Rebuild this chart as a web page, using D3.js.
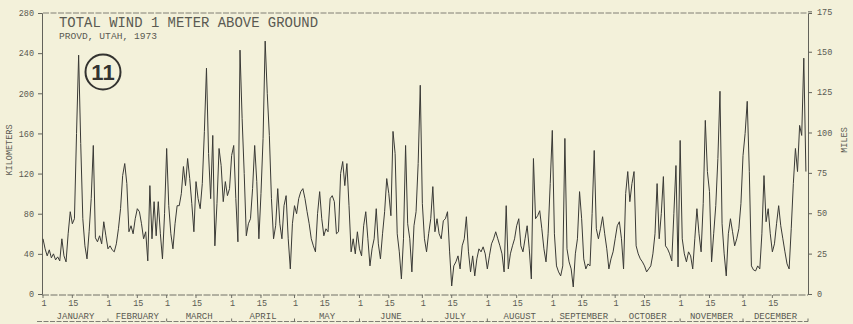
<!DOCTYPE html>
<html>
<head>
<meta charset="utf-8">
<script src="https://cdn.jsdelivr.net/npm/d3@7/dist/d3.min.js"></script>
<style>
  html, body { margin: 0; padding: 0; background: #f3f1da; }
  svg { display: block; }
  text { font-family: "Liberation Mono", "DejaVu Sans Mono", monospace; fill: #5a5a52; }
</style>
</head>
<body>
<svg id="chart" width="853" height="324"></svg>
<script>
// Daily total wind run (km) at 1 m above ground, Provo, Utah, 1973 (Jan 1 = index 0)
const windKm = [
  // January
  55, 45, 38, 44, 36, 40, 34, 37, 33, 55, 38, 32, 60, 82, 70, 75, 160, 238, 150, 75,
  48, 35, 62, 95, 148, 56, 52, 58, 50, 72, 58,
  // February
  45, 48, 44, 42, 50, 65, 85, 118, 130, 110, 62, 68, 60, 75, 85, 82, 70, 55, 62, 33,
  108, 55, 92, 58, 92, 60, 35, 80,
  // March
  145, 88, 60, 45, 70, 88, 88, 100, 127, 108, 135, 115, 90, 62, 112, 95, 85, 110, 162, 225,
  140, 95, 158, 48, 90, 145, 128, 92, 112, 98, 105,
  // April
  138, 148, 95, 52, 243, 175, 120, 58, 70, 75, 105, 148, 112, 55, 100, 155, 252, 200, 158, 95,
  55, 68, 105, 70, 55, 88, 98, 55, 25, 70,
  // May
  88, 80, 95, 102, 105, 95, 82, 70, 55, 48, 42, 80, 102, 75, 58, 65, 62, 95, 98, 92,
  60, 62, 120, 132, 108, 130, 88, 42, 55, 40, 62,
  // June
  45, 38, 68, 82, 55, 28, 45, 55, 85, 50, 35, 60, 82, 115, 100, 78, 162, 140, 60, 42,
  15, 55, 148, 70, 55, 22, 68, 82, 130, 208,
  // July
  90, 55, 42, 60, 75, 107, 62, 75, 60, 55, 73, 75, 82, 42, 8, 28, 32, 38, 25, 48,
  55, 77, 42, 22, 38, 18, 35, 45, 42, 47, 40,
  // August
  25, 38, 50, 55, 62, 55, 48, 40, 22, 88, 25, 40, 48, 55, 68, 75, 48, 42, 55, 68,
  45, 15, 135, 75, 78, 83, 65, 45, 32, 60, 110,
  // September
  163, 60, 28, 22, 18, 28, 155, 45, 32, 25, 7, 40, 55, 102, 75, 35, 25, 30, 28, 80,
  143, 65, 55, 65, 77, 60, 45, 25, 35, 42,
  // October
  55, 68, 72, 55, 25, 100, 122, 92, 110, 122, 48, 40, 35, 32, 28, 22, 25, 28, 40, 60,
  110, 55, 80, 117, 48, 45, 40, 33, 80, 128, 27,
  // November
  153, 55, 40, 32, 42, 38, 25, 55, 85, 60, 42, 90, 173, 122, 102, 32, 60, 88, 135, 202,
  70, 40, 18, 60, 75, 62, 48, 55, 65, 90,
  // December
  138, 160, 192, 122, 28, 24, 23, 28, 25, 60, 118, 72, 85, 60, 42, 50, 70, 88, 68, 55,
  42, 30, 25, 65, 110, 145, 122, 168, 158, 235, 122
];

const monthNames = ["JANUARY", "FEBRUARY", "MARCH", "APRIL", "MAY", "JUNE",
                    "JULY", "AUGUST", "SEPTEMBER", "OCTOBER", "NOVEMBER", "DECEMBER"];
const monthLengths = [31, 28, 31, 30, 31, 30, 31, 31, 30, 31, 30, 31];
const dayTickLabels = ["1", "15"];
const kmTicks = [0, 40, 80, 120, 160, 200, 240, 280];
const mileTicks = [0, 25, 50, 75, 100, 125, 150, 175];
const KM_PER_MILE = 1.609344;

const svg = d3.select("#chart");
const plotLeft = 43, plotRight = 808, plotTop = 13, plotBottom = 294;
const axisColor = "#62625a";
const textColor = "#5a5a52";

const x = d3.scaleLinear().domain([0, 365]).range([plotLeft, plotRight]);
const y = d3.scaleLinear().domain([0, 280]).range([plotBottom, plotTop]);
const yMi = d3.scaleLinear().domain([0, 280 / KM_PER_MILE]).range([plotBottom, plotTop]);

// Month start offsets (day of year)
const monthStarts = [];
monthLengths.reduce((acc, len) => { monthStarts.push(acc); return acc + len; }, 0);

// Top border
svg.append("line").attr("x1", plotLeft).attr("x2", plotRight).attr("y1", plotTop).attr("y2", plotTop)
  .attr("stroke", axisColor).attr("stroke-width", 0.8).attr("stroke-dasharray", "6,1.5");

// Left kilometre axis
const gL = svg.append("g").attr("transform", `translate(${plotLeft - 1},0)`)
  .call(d3.axisLeft(y).tickValues(kmTicks).tickSize(4).tickPadding(4).tickFormat(d3.format("d")));
// Right mile axis
const gR = svg.append("g").attr("transform", `translate(${plotRight},0)`)
  .call(d3.axisRight(yMi).tickValues(mileTicks).tickSize(4).tickPadding(5).tickFormat(d3.format("d")));

[gL, gR].forEach(g => {
  g.select(".domain").attr("stroke", axisColor).attr("stroke-width", 1);
  g.selectAll(".tick line").attr("stroke", axisColor).attr("stroke-width", 1);
  g.selectAll(".tick text").attr("font-size", 8.5).attr("fill", textColor)
    .style("font-family", '"Liberation Mono", "DejaVu Sans Mono", monospace');
});

// Bottom axis: ticks on the 1st and 15th of each month
const dayTicks = [];
monthStarts.forEach(s => { dayTicks.push({ d: s, label: dayTickLabels[0] }); dayTicks.push({ d: s + 14, label: dayTickLabels[1] }); });

svg.append("line").attr("x1", plotLeft - 1).attr("x2", plotRight).attr("y1", plotBottom + 1).attr("y2", plotBottom + 1)
  .attr("stroke", axisColor).attr("stroke-width", 0.9).attr("stroke-dasharray", "7,1.5");

const gB = svg.append("g");
gB.selectAll("line.dt").data(dayTicks).join("line").attr("class", "dt")
  .attr("x1", t => x(t.d)).attr("x2", t => x(t.d))
  .attr("y1", plotBottom + 1).attr("y2", plotBottom + 4)
  .attr("stroke", axisColor).attr("stroke-width", 0.9);
gB.selectAll("text.dl").data(dayTicks).join("text").attr("class", "dl")
  .attr("x", t => x(t.d) + 1).attr("y", plotBottom + 12)
  .attr("text-anchor", "middle").attr("font-size", 8.5)
  .text(t => t.label);

// Month names with bracket line below
gB.selectAll("text.mn").data(monthNames).join("text").attr("class", "mn")
  .attr("x", (m, i) => (x(monthStarts[i]) + x(monthStarts[i] + monthLengths[i])) / 2)
  .attr("y", plotBottom + 25)
  .attr("text-anchor", "middle").attr("font-size", 9)
  .text(m => m);

svg.append("line").attr("x1", plotLeft - 6).attr("x2", plotRight).attr("y1", 321.5).attr("y2", 321.5)
  .attr("stroke", axisColor).attr("stroke-width", 0.8).attr("stroke-dasharray", "5,1.5");
gB.selectAll("line.mb").data(monthStarts.slice(1).concat([365])).join("line").attr("class", "mb")
  .attr("x1", d => x(d)).attr("x2", d => x(d))
  .attr("y1", 318.5).attr("y2", 321.5)
  .attr("stroke", axisColor).attr("stroke-width", 0.9);

// Axis titles
svg.append("text").attr("transform", "translate(12,150) rotate(-90)")
  .attr("text-anchor", "middle").attr("font-size", 8.5).text("KILOMETERS");
svg.append("text").attr("transform", "translate(847,140) rotate(-90)")
  .attr("text-anchor", "middle").attr("font-size", 8.5).text("MILES");

// Wind trace
const line = d3.line().x((v, i) => x(i)).y(v => y(v));
svg.append("path").datum(windKm)
  .attr("fill", "none").attr("stroke", "#3a3a36").attr("stroke-width", 1)
  .attr("stroke-linejoin", "round")
  .attr("d", line);

// Titles
svg.append("text").attr("x", 59).attr("y", 27).attr("font-size", 14)
  .attr("textLength", 259).attr("lengthAdjust", "spacingAndGlyphs")
  .text("TOTAL WIND 1 METER ABOVE GROUND");
svg.append("text").attr("x", 59).attr("y", 39).attr("font-size", 9.5)
  .attr("textLength", 98).attr("lengthAdjust", "spacingAndGlyphs")
  .text("PROVD, UTAH, 1973");

// Figure number badge
svg.append("circle").attr("cx", 103).attr("cy", 72).attr("r", 17.5)
  .attr("fill", "#f3f1da").attr("stroke", "#333330").attr("stroke-width", 2);
svg.append("text").attr("x", 103).attr("y", 80).attr("text-anchor", "middle")
  .attr("font-size", 22).attr("font-weight", "bold")
  .style("font-family", '"Liberation Sans", Arial, sans-serif').style("fill", "#333330")
  .text("11");
</script>
</body>
</html>
